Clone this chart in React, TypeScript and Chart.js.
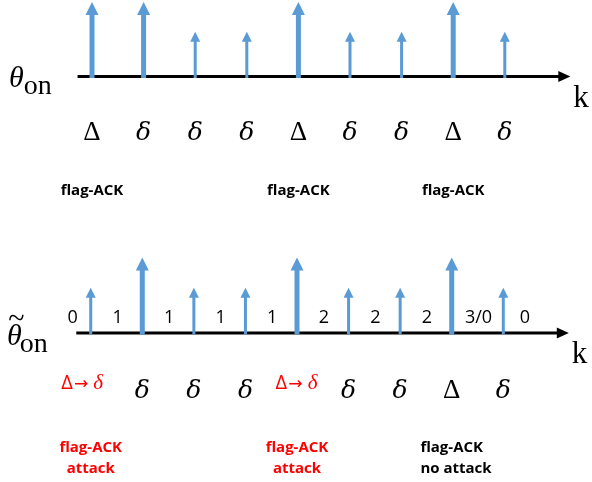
import React, { useEffect, useRef } from 'react';
import { Chart, registerables } from 'chart.js';

Chart.register(...registerables);

// ---------- data ----------
const steps = [0, 1, 2, 3, 4, 5, 6, 7, 8];
const topHeights = [1, 1, 0.6, 0.6, 1, 0.6, 0.6, 1, 0.6];
const topLabels = ['Δ', 'δ', 'δ', 'δ', 'Δ', 'δ', 'δ', 'Δ', 'δ'];
const topFlagSteps = [0, 4, 7];
const topFlagTexts = [['flag-ACK'], ['flag-ACK'], ['flag-ACK']];

const bottomHeights = [0.6, 1, 0.6, 0.6, 1, 0.6, 0.6, 1, 0.6];
const bottomLabels = ['Δ→δ', 'δ', 'δ', 'δ', 'Δ→δ', 'δ', 'δ', 'Δ', 'δ'];
const bottomCounts = ['0', '1', '1', '1', '1', '2', '2', '2', '3/0', '0'];
const bottomFlagSteps = [0, 4, 7];
const bottomFlagTexts = [['flag-ACK', 'attack'], ['flag-ACK', 'attack'], ['flag-ACK', 'no attack']];
const bottomFlagAttacked = [true, true, false];

// ---------- styling ----------
const BLUE = '#5B9BD5';
const RED = '#FF0000';
const SERIF = '"Liberation Serif", "DejaVu Serif", serif';
const SANS = '"Open Sans", "Noto Sans", sans-serif';
const AXIS_START = -0.28;
const AXIS_END = 9.27;

type PanelSpec = {
  heights: number[];
  labels: string[];
  flagSteps: number[];
  flagTexts: string[][];
  flagAttacked?: boolean[];
  counts?: string[];
  tilde: boolean;
  xMin: number;
  xMax: number;
  yMin: number;
  yMax: number;
  labelOffset: number;
  flagOffset: number;
};

function drawGreek(ctx: CanvasRenderingContext2D, text: string, x: number, y: number, first: boolean) {
  if (text.includes('→')) {
    // red "Δ→ δ"
    const parts: [string, string][] = [
      ['Δ', `20px ${SANS}`],
      ['→', `17px "DejaVu Sans", sans-serif`],
      ['\u2009δ', `italic 21px ${SERIF}`],
    ];
    let total = 0;
    parts.forEach(([t, f]) => {
      ctx.font = f;
      total += ctx.measureText(t).width + 1;
    });
    let left = x - total / 2 - (first ? 8 : 0);
    ctx.fillStyle = RED;
    ctx.textAlign = 'left';
    parts.forEach(([t, f]) => {
      ctx.font = f;
      ctx.fillText(t, left, y - 9);
      left += ctx.measureText(t).width + 1;
    });
    return;
  }
  ctx.fillStyle = '#000';
  ctx.textAlign = 'center';
  ctx.font = text === 'δ' ? `italic 25px "DejaVu Serif", serif` : `27px ${SERIF}`;
  ctx.fillText(text, x, y);
}

function makePlugin(spec: PanelSpec) {
  return {
    id: 'stemDiagram',
    afterDatasetsDraw(chart: any) {
      const ctx: CanvasRenderingContext2D = chart.ctx;
      const xs = chart.scales.x;
      const ys = chart.scales.y;
      const yb = ys.getPixelForValue(0);
      ctx.save();
      ctx.textBaseline = 'alphabetic';

      // horizontal time axis with arrow
      const ax0 = xs.getPixelForValue(AXIS_START);
      const ax1 = xs.getPixelForValue(AXIS_END);
      ctx.fillStyle = '#000';
      ctx.fillRect(ax0, yb - 1.5, ax1 - 10 - ax0, 3);
      ctx.beginPath();
      ctx.moveTo(ax1, yb);
      ctx.lineTo(ax1 - 12, yb - 5.5);
      ctx.lineTo(ax1 - 12, yb + 5.5);
      ctx.closePath();
      ctx.fill();

      // stems with arrow heads
      const pts = chart.data.datasets[0].data as { x: number; y: number }[];
      pts.forEach((p) => {
        const x = xs.getPixelForValue(p.x);
        const yt = ys.getPixelForValue(p.y);
        const tall = p.y >= 1;
        const sw = tall ? 5 : 3;
        const hw = tall ? 13 : 10;
        const hh = tall ? 13 : 10;
        ctx.fillStyle = BLUE;
        ctx.fillRect(x - sw / 2, yt + hh - 1, sw, yb + 1.5 - (yt + hh - 1));
        ctx.beginPath();
        ctx.moveTo(x, yt);
        ctx.lineTo(x - hw / 2, yt + hh);
        ctx.lineTo(x + hw / 2, yt + hh);
        ctx.closePath();
        ctx.fill();
      });

      // symbol labels under the axis
      spec.labels.forEach((l, i) => {
        drawGreek(ctx, l, xs.getPixelForValue(steps[i]), yb + spec.labelOffset, i === 0);
      });

      // counters above the axis
      if (spec.counts) {
        ctx.font = `18px ${SANS}`;
        ctx.fillStyle = '#000';
        ctx.textAlign = 'center';
        const n = spec.counts.length;
        spec.counts.forEach((c, j) => {
          const pos = j === 0 ? -0.35 : j === n - 1 ? steps[steps.length - 1] + 0.42 : j - 0.48;
          ctx.fillText(c, xs.getPixelForValue(pos), yb - 10);
        });
      }

      // flag-ACK annotations
      ctx.font = `bold 15px ${SANS}`;
      spec.flagSteps.forEach((s, k) => {
        const x = xs.getPixelForValue(s);
        const lines = spec.flagTexts[k];
        const attacked = spec.flagAttacked ? spec.flagAttacked[k] : false;
        ctx.fillStyle = attacked ? RED : '#000';
        const w0 = ctx.measureText(lines[0]).width;
        lines.forEach((line, li) => {
          const y = yb + spec.flagOffset + li * 21;
          if (attacked || li === 0) {
            ctx.textAlign = 'center';
            ctx.fillText(line, x, y);
          } else {
            ctx.textAlign = 'left';
            ctx.fillText(line, x - w0 / 2, y);
          }
        });
      });

      // axis names
      ctx.fillStyle = '#000';
      ctx.textAlign = 'left';
      ctx.font = `italic 30px ${SERIF}`;
      const thY = yb + (spec.tilde ? 12 : 10.5);
      const thX = spec.tilde ? 7 : 9;
      ctx.fillText('θ', thX, thY);
      const thW = ctx.measureText('θ').width;
      if (spec.tilde) {
        ctx.font = `30px ${SERIF}`;
        ctx.textAlign = 'center';
        ctx.fillText('~', thX + thW / 2 + 2, thY - 17);
        ctx.textAlign = 'left';
      }
      ctx.font = `28px ${SERIF}`;
      ctx.fillText('on', thX + thW - (spec.tilde ? 2 : 0), yb + (spec.tilde ? 19 : 17.5));
      ctx.font = `31px ${SERIF}`;
      ctx.fillText('k', xs.getPixelForValue(AXIS_END) + 3, yb + 30);

      ctx.restore();
    },
  };
}

function Panel({ spec, top }: { spec: PanelSpec; top: number }) {
  const ref = useRef<HTMLCanvasElement | null>(null);
  useEffect(() => {
    if (!ref.current) return;
    const chart = new Chart(ref.current, {
      type: 'scatter',
      data: {
        datasets: [
          {
            data: spec.heights.map((h, i) => ({ x: steps[i], y: h })),
            pointRadius: 0,
            showLine: false,
          },
        ],
      },
      options: {
        animation: false,
        responsive: false,
        maintainAspectRatio: false,
        devicePixelRatio: 1,
        layout: { padding: 0 },
        events: [],
        scales: {
          x: { type: 'linear', min: spec.xMin, max: spec.xMax, display: false },
          y: { type: 'linear', min: spec.yMin, max: spec.yMax, display: false },
        },
        plugins: { legend: { display: false }, tooltip: { enabled: false } },
      },
      plugins: [makePlugin(spec)],
    });
    return () => chart.destroy();
  }, [spec]);
  return (
    <canvas
      ref={ref}
      width={592}
      height={241}
      style={{ position: 'absolute', left: 0, top, width: 592, height: 241 }}
    />
  );
}

const topSpec: PanelSpec = {
  heights: topHeights,
  labels: topLabels,
  flagSteps: topFlagSteps,
  flagTexts: topFlagTexts,
  tilde: false,
  xMin: -1.783,
  xMax: 9.69,
  yMin: -2.208,
  yMax: 1.027,
  labelOffset: 63.5,
  flagOffset: 118.5,
};

const bottomSpec: PanelSpec = {
  heights: bottomHeights,
  labels: bottomLabels,
  flagSteps: bottomFlagSteps,
  flagTexts: bottomFlagTexts,
  flagAttacked: bottomFlagAttacked,
  counts: bottomCounts,
  tilde: true,
  xMin: -1.759,
  xMax: 9.72,
  yMin: -1.974,
  yMax: 1.2185,
  labelOffset: 65,
  flagOffset: 119,
};

export default function App() {
  return (
    <div style={{ position: 'fixed', left: 0, top: 0, width: 592, height: 482, background: '#fff' }}>
      <Panel spec={topSpec} top={0} />
      <Panel spec={bottomSpec} top={241} />
    </div>
  );
}
